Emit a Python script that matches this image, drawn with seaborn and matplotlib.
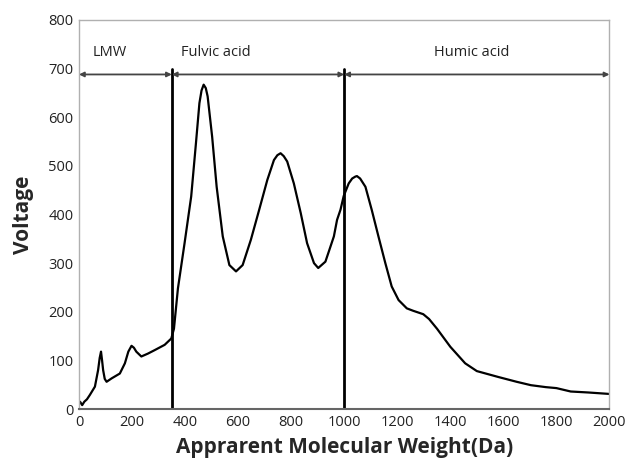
import numpy as np
import pandas as pd
import matplotlib
matplotlib.use("Agg")
import matplotlib.pyplot as plt
import seaborn as sns

mw = [0, 4, 12, 20, 30, 41, 60, 72, 78, 83, 87, 91, 97, 104, 123, 154, 173, 186, 198, 207, 216, 235,
      260, 285, 323, 348, 358, 373, 398, 423, 441, 454, 462, 470, 478, 485, 502, 519, 542, 567, 592,
      617, 648, 679, 710, 735, 748, 760, 772, 785, 810, 836, 860, 886, 902, 929, 942, 961, 973, 986,
      998, 1017, 1030, 1042, 1048, 1060, 1080, 1104, 1129, 1155, 1179, 1205, 1236, 1260, 1298, 1320,
      1350, 1400, 1456, 1500, 1580, 1650, 1704, 1760, 1800, 1854, 1920, 2000]
voltage = [10, 15, 8, 15, 20, 29, 46, 80, 105, 118, 100, 80, 62, 56, 63, 73, 94, 118, 130, 126, 118, 108,
           114, 121, 132, 145, 165, 248, 341, 437, 547, 629, 655, 667, 660, 643, 560, 457, 355, 296, 283,
           296, 348, 409, 471, 512, 522, 526, 520, 509, 464, 403, 341, 300, 290, 303, 324, 355, 389, 410,
           438, 464, 474, 478, 479, 474, 457, 409, 355, 300, 252, 224, 207, 202, 195, 185,
           165, 128, 94, 78, 66, 56, 49, 45, 43, 36, 34, 31]
boundaries = [350, 1000]
region_names = ["LMW", "Fulvic acid", "Humic acid"]
region_edges = [0, 350, 1000, 2000]
region_label_x = [115, 515, 1480]

sns.set_style("white")
plt.rcParams['font.family'] = ['Open Sans', 'DejaVu Sans']

fig = plt.figure(figsize=(6.27, 4.65), dpi=100)
ax = fig.add_axes([0.126, 0.1204, 0.846, 0.8366])

df = pd.DataFrame({"mw": mw, "voltage": voltage})
sns.lineplot(data=df, x="mw", y="voltage", ax=ax, color="black", linewidth=1.6)

for b in boundaries:
    ax.axvline(b, ymin=0, ymax=700/800, color="black", linewidth=2.0)

arrow_y = 688
for i in range(3):
    ax.annotate("", xy=(region_edges[i], arrow_y), xytext=(region_edges[i+1], arrow_y),
                arrowprops=dict(arrowstyle="<|-|>", color="#444444", lw=1.3,
                                mutation_scale=7, shrinkA=0, shrinkB=0))
    ax.text(region_label_x[i], 733, region_names[i], ha="center", va="center",
            fontsize=10.5, color="#222222")

ax.set_xlim(0, 2000)
ax.set_ylim(0, 800)
ax.set_xticks(np.arange(0, 2001, 200))
ax.set_yticks(np.arange(0, 801, 100))
ax.tick_params(axis="both", labelsize=10.5, colors="#222222", length=0, pad=4)
ax.set_xlabel("Apprarent Molecular Weight(Da)", fontsize=15, fontweight="bold", labelpad=5)
ax.set_ylabel("Voltage", fontsize=15, fontweight="bold", labelpad=10)

for s in ["top", "right", "left"]:
    ax.spines[s].set_color("#b0b0b0")
    ax.spines[s].set_linewidth(1.0)
ax.spines["bottom"].set_color("#666666")
ax.spines["bottom"].set_linewidth(1.5)

fig.savefig("out.png", dpi=100)
